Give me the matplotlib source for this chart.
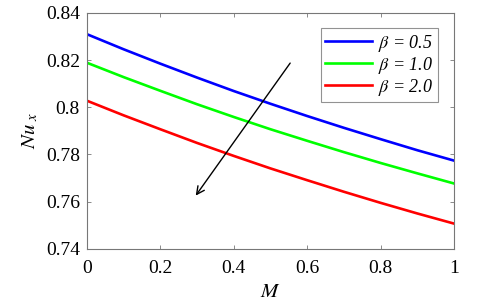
import matplotlib
matplotlib.use("Agg")
import matplotlib.pyplot as plt

plt.rcParams['font.family'] = ['Liberation Serif', 'DejaVu Serif']
plt.rcParams['mathtext.fontset'] = 'stix'

# data
M = [0.0, 0.1, 0.2, 0.3, 0.4, 0.5, 0.6, 0.7, 0.8, 0.9, 1.0]
nu_b05 = [0.8310, 0.8246, 0.8185, 0.8126, 0.8069, 0.8015, 0.7963, 0.7913, 0.7865, 0.7818, 0.7774]
nu_b10 = [0.8189, 0.8128, 0.8070, 0.8013, 0.7959, 0.7907, 0.7858, 0.7810, 0.7764, 0.7720, 0.7677]
nu_b20 = [0.8028, 0.7966, 0.7907, 0.7849, 0.7794, 0.7741, 0.7691, 0.7642, 0.7595, 0.7550, 0.7507]
labels = ['0.5', '1.0', '2.0']
colors = ['#0000ff', '#00ff00', '#ff0000']

fig = plt.figure(figsize=(4.8, 3.08), dpi=100)
ax = fig.add_axes([0.181, 0.192, 0.765, 0.766])

for y, lab, c in zip([nu_b05, nu_b10, nu_b20], labels, colors):
    ax.plot(M, y, color=c, lw=1.9, label=r'$\beta$ = ' + lab)

ax.set_xlim(0, 1)
ax.set_ylim(0.74, 0.84)
ax.set_xticks([0, 0.2, 0.4, 0.6, 0.8, 1])
ax.set_xticklabels(['0', '0.2', '0.4', '0.6', '0.8', '1'])
ax.set_yticks([0.74, 0.76, 0.78, 0.8, 0.82, 0.84])
ax.set_yticklabels(['0.74', '0.76', '0.78', '0.8', '0.82', '0.84'])
ax.tick_params(direction='in', top=True, right=True, labelsize=14,
               length=3, width=0.6, color='#777777')
ax.tick_params(axis='x', pad=8)
ax.tick_params(axis='y', pad=5)
for s in ax.spines.values():
    s.set_color('#777777')
    s.set_linewidth(0.8)

ax.set_xlabel(r'$M$', fontsize=15, labelpad=4)
ax.set_ylabel(r'$Nu_{\ x}$', fontsize=15, labelpad=4)

# arrow showing increasing beta
ax.annotate('', xy=(0.292, 0.7616), xytext=(0.558, 0.8197),
            arrowprops=dict(arrowstyle='->', color='black', lw=1.0,
                            mutation_scale=14))

leg = ax.legend(loc='upper right', bbox_to_anchor=(0.955, 0.935),
                prop={'size': 13, 'style': 'italic'}, fancybox=False,
                handlelength=2.6, handletextpad=0.3, borderpad=0.25,
                labelspacing=0.05, borderaxespad=0)
leg.get_frame().set_edgecolor('#777777')
leg.get_frame().set_linewidth(0.8)

fig.savefig('out.png', dpi=100)
